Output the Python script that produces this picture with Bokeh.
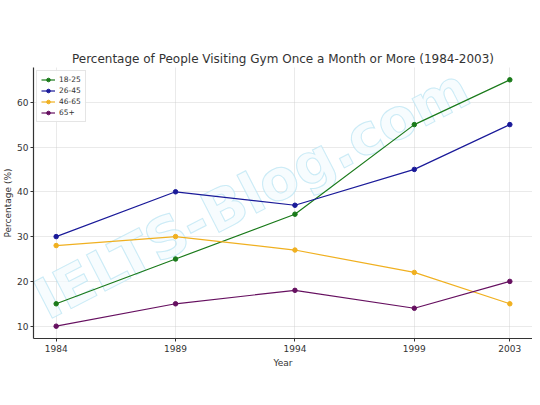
from bokeh.plotting import figure
from bokeh.models import Legend, LegendItem, FixedTicker, Range1d, Label
from bokeh.embed import file_html
from bokeh.resources import INLINE

years = [1984, 1989, 1994, 1999, 2003]
ages_18_25 = [15, 25, 35, 55, 65]
ages_26_45 = [30, 40, 37, 45, 55]
ages_46_65 = [28, 30, 27, 22, 15]
ages_65_plus = [10, 15, 18, 14, 20]
series_names = ["18-25", "26-45", "46-65", "65+"]
series_values = [ages_18_25, ages_26_45, ages_46_65, ages_65_plus]
colors = ["#1a7a1a", "#1a1a99", "#f0b020", "#661060"]
y_ticks = [10, 20, 30, 40, 50, 60]

FONT = "DejaVu Sans"

p = figure(width=532, height=394, output_backend="svg", toolbar_location=None,
           title="Percentage of People Visiting Gym Once a Month or More (1984-2003)",
           x_range=Range1d(1983.05, 2003.95), y_range=Range1d(7.25, 67.75),
           min_border_left=0, min_border_right=0, min_border_top=67, min_border_bottom=56)

p.title.text_font = FONT
p.title.text_font_size = "12px"
p.title.text_font_style = "normal"
p.title.text_color = "#333333"
p.title.align = "center"
p.title.standoff = 4

p.outline_line_color = None

# watermark
wm = Label(x=1983.9, y=8.7, text="IELTS-Blog.com", angle=0.475,
           text_font=FONT, text_font_size="56px", text_font_style="bold",
           text_color="#f4fbfe", text_alpha=0.7,
           text_outline_color="#b5e3f2", level="underlay")
p.add_layout(wm)

items = []
for name, vals, c in zip(series_names, series_values, colors):
    r1 = p.line(years, vals, line_color=c, line_width=1.2)
    r2 = p.scatter(years, vals, size=4.5, fill_color=c, line_color=c)
    items.append(LegendItem(label=name, renderers=[r1, r2]))

legend = Legend(items=items, location="top_left")
legend.label_text_font = FONT
legend.label_text_font_size = "7.5px"
legend.label_text_color = "#333333"
legend.glyph_width = 14
legend.glyph_height = 9
legend.label_height = 9
legend.spacing = 2
legend.padding = 4
legend.margin = 3
legend.label_standoff = 4
legend.border_line_color = "#cccccc"
legend.background_fill_alpha = 0.9
p.add_layout(legend)

p.xaxis.ticker = FixedTicker(ticks=years)
p.yaxis.ticker = FixedTicker(ticks=y_ticks)
p.xaxis.axis_label = "Year"
p.yaxis.axis_label = "Percentage (%)"
for ax in [p.xaxis[0], p.yaxis[0]]:
    ax.axis_label_text_font = FONT
    ax.axis_label_text_font_size = "9px"
    ax.axis_label_text_font_style = "normal"
    ax.axis_label_text_color = "#333333"
    ax.major_label_text_font = FONT
    ax.major_label_text_font_size = "9px"
    ax.major_label_text_color = "#333333"
    ax.axis_line_color = "#333333"
    ax.axis_line_width = 1.2
    ax.major_tick_line_color = "#333333"
    ax.major_tick_out = 3
    ax.major_tick_in = 0
    ax.minor_tick_line_color = None
    ax.major_label_standoff = 3
    ax.axis_label_standoff = 3
p.yaxis[0].major_label_standoff = 2
p.yaxis[0].axis_label_standoff = 1

p.xgrid.grid_line_color = "#cccccc"
p.ygrid.grid_line_color = "#cccccc"
p.xgrid.grid_line_dash = "1 1"
p.ygrid.grid_line_dash = "1 1"
p.xgrid.grid_line_alpha = 0.8
p.ygrid.grid_line_alpha = 0.8

open("out.html", "w").write(file_html(p, INLINE))
